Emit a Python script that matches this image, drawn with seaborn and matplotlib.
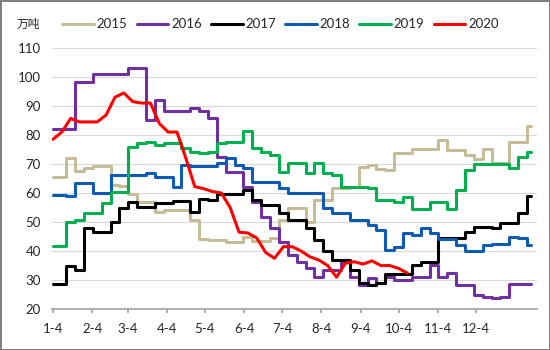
import numpy as np
import pandas as pd
import matplotlib
matplotlib.use('Agg')
import matplotlib.pyplot as plt
import seaborn as sns

# weekly values (万吨), week 0 = Jan 4
s2015 = [65.5, 65.5, 72, 67.5, 68.5, 69.3, 69.3, 62.8, 62.5, 59.5,
         56.8, 56.8, 53.6, 54, 54, 54, 50.7, 44, 43.8, 43.8,
         43.2, 43.2, 45, 43.6, 43.6, 44.5, 50.7, 54.7, 54.7, 50.1,
         57.6, 57.6, 61.6, 61.6, 62, 69, 69.6, 68.3, 68, 73.8,
         73.8, 75.2, 75.2, 75.2, 78.3, 74.8, 74.8, 73, 71.7, 75.2,
         70.3, 70.3, 77.6, 77.6, 83]
s2016 = [82, 82, 82, 98.4, 98.4, 101, 101, 101, 101, 103,
         103, 85.2, 92, 88.4, 88.4, 88.4, 89.2, 88.4, 85.9, 72.5,
         67.4, 67.4, 62.2, 57, 51.8, 47.9, 43.2, 38.6, 36.3, 34,
         31.1, 33.4, 33.4, 36.3, 31, 28.3, 30.7, 29, 31.1, 30,
         30, 31.1, 31.1, 35.2, 31.1, 32.3, 28.3, 28.3, 24.8, 24.3,
         23.8, 24.3, 28.6, 28.6, 28.6]
s2017 = [28.6, 28.6, 35, 33.4, 48, 46.7, 46.7, 50.1, 54.7, 57,
         55.3, 55.3, 56.4, 56.4, 57.3, 57.3, 53.6, 57.8, 57.6, 59.7,
         59.7, 59.7, 61, 57.6, 55.9, 55.9, 53, 50.7, 50.7, 47.8,
         43.8, 40, 36.9, 36.9, 33.4, 28.9, 28.3, 29, 32, 32,
         32, 35.2, 36.3, 36.3, 44.4, 44.4, 44.4, 46.7, 48.4, 48.4,
         47.8, 49.5, 49.5, 53, 59]
s2018 = [59.3, 59.3, 58.9, 63.6, 63.6, 59.9, 59.9, 66.2, 66.2, 66.2,
         66.2, 67, 65.6, 65.6, 62.2, 69.7, 69.3, 69.3, 69.3, 70.2,
         72, 69.8, 68.5, 63.9, 63.9, 63.9, 61.6, 59.9, 59.9, 59.9,
         59.9, 54.7, 53, 53, 50.7, 50.7, 49, 47.2, 40.3, 41.5,
         46.1, 45.5, 47.8, 46.1, 44, 44, 42, 40.1, 40.1, 42,
         42.3, 42.3, 45, 44.4, 42]
s2019 = [41.7, 41.7, 50.1, 50.7, 53, 53, 56.4, 60.5, 60.5, 76,
         77.1, 77.6, 76.6, 77.4, 77.4, 75.4, 74.3, 73.7, 74.2, 77.1,
         77.6, 77.6, 81.5, 75.4, 74.3, 73.1, 67.4, 70.2, 70.2, 66.8,
         70.2, 66.8, 66.2, 62.2, 62.2, 62.2, 61.6, 57.5, 57.6, 57,
         58.7, 54.4, 54.4, 57, 57, 54.4, 61, 68, 70, 70,
         70, 70, 68.5, 72.5, 74]
s2020 = [78.5, 81, 85.7, 84.5, 84.5, 84.5, 86.9, 93, 94.5, 91.5,
         91, 91, 84, 81, 81, 72, 62.2, 61.5, 60.5, 60,
         55, 46.5, 46.2, 44.5, 39.5, 37.5, 41.5, 41.5, 40, 38,
         36.9, 35, 31, 35.8, 36.3, 35.5, 36.6, 35, 35, 34,
         32.4]

years = ['2015', '2016', '2017', '2018', '2019', '2020']
series = [s2015, s2016, s2017, s2018, s2019, s2020]
colors = ['#C4BD97', '#7030A0', '#000000', '#0F5BB4', '#00B050', '#FF0000']
tick_labels = ['1-4', '2-4', '3-4', '4-4', '5-4', '6-4', '7-4', '8-4',
               '9-4', '10-4', '11-4', '12-4']

sns.set_theme(style='white')
plt.rcParams['font.family'] = ['Lato', 'Noto Sans CJK SC']

fig = plt.figure(figsize=(5.5, 3.5), dpi=100, edgecolor='#7F7F7F', linewidth=2)
ax = fig.add_axes([0.0945, 0.117, 0.8815, 0.746])

for year, vals, color in zip(years, series, colors):
    df = pd.DataFrame({'week': np.arange(len(vals)), 'value': vals})
    style = 'default' if year == '2020' else 'steps-mid'
    sns.lineplot(data=df, x='week', y='value', ax=ax, color=color, lw=2.2,
                 label=year, drawstyle=style)

# month ticks at the 4th of each month, in weeks from Jan 4
days = [0, 31, 28, 31, 30, 31, 30, 31, 31, 30, 31, 30]
ax.set_xticks(np.cumsum(days) / 7)
ax.set_xticklabels(tick_labels)
ax.set_xlim(-0.11, 54.6)
ax.set_ylim(20, 110)
ax.set_yticks(range(20, 111, 10))
ax.set_xlabel('')
ax.set_ylabel('')

ax.yaxis.grid(True, color='#D9D9D9', lw=0.8)
ax.xaxis.grid(False)
for side in ['left', 'top', 'right']:
    ax.spines[side].set_visible(False)
ax.spines['bottom'].set_color('#A6A6A6')
ax.tick_params(axis='x', length=3, color='#A6A6A6', direction='out',
               pad=7, labelsize=9.5, labelcolor='#262626')
ax.tick_params(axis='y', length=0, pad=8, labelsize=9.5, labelcolor='#262626')
ax.tick_params(bottom=True)

handles, labels = ax.get_legend_handles_labels()
ax.get_legend().remove()
fig.legend(handles, labels, ncol=6, loc='center', bbox_to_anchor=(0.51, 0.931),
           frameon=False, handlelength=2.4, columnspacing=0.7, handletextpad=0.2,
           fontsize=9.5)
fig.text(0.03, 0.931, '万吨', va='center', ha='left', fontsize=8.5, color='#262626')

fig.savefig('out.png', dpi=100, edgecolor=fig.get_edgecolor())
